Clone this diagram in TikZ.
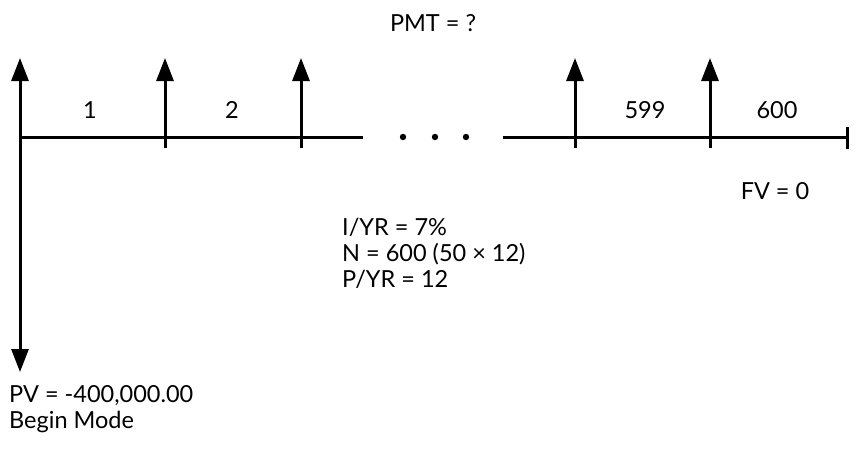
\documentclass[tikz,border=0pt]{standalone}
\usepackage{fontspec}
\setmainfont{Lato}
\usetikzlibrary{arrows.meta,positioning}

\begin{document}
\begin{tikzpicture}[x=1pt,y=-1pt,
axis/.style={line width=3pt},
flow/.style={line width=3pt,-{Triangle[width=17pt,length=23pt]}},
lbl/.style={font=\fontsize{23.5}{26}\selectfont,inner sep=0pt},
>=latex]
\useasboundingbox (0,0) rectangle (865,448);

% time line points
\coordinate (t0) at (20,137);
\foreach \x [count=\i] in {165,301,575,710}
{\coordinate (t\i) at (\x,137);
 \coordinate (u\i) at (\x,58);
 \coordinate (b\i) at (\x,148);}
\coordinate (u0) at (20,58);
\coordinate (d0) at (20,372);
\coordinate (gapl) at (363,137);
\coordinate (gapr) at (503,137);
\coordinate (tend) at (847,137);
\coordinate (tendu) at (847,127);
\coordinate (tendd) at (847,149);

\draw[axis] (t0) -- (gapl);
\draw[axis] (gapr) -- (tend);
\draw[axis] (tendu) -- (tendd);
\foreach \i in {1,...,4}
{\draw[axis] (b\i) -- (t\i);
 \draw[flow] (t\i) -- (u\i);}
\draw[flow] (t0) -- (u0);
\draw[flow] (t0) -- (d0);

% dots
\foreach \x in {403,435,466}
\fill (\x,137) circle (3.2);

% labels
\node[lbl] (n1) at (90,110) {1};
\node[lbl] (n2) at (232,110) {2};
\node[lbl] (n599) at (645,110) {599};
\node[lbl] (n600) at (777,110) {600};
\node[lbl] (pmt) at (433,23) {PMT = ?};
\node[lbl] (fv) at (775,191) {FV = 0};
\node[lbl,anchor=north west,align=left] (rates) at (342,218)
  {I/YR = 7\%\\N = 600 (50 × 12)\\P/YR = 12};
\node[lbl,anchor=north west,align=left] (pv) at (9,385)
  {PV = -400,000.00\\Begin Mode};
\end{tikzpicture}
\end{document}
